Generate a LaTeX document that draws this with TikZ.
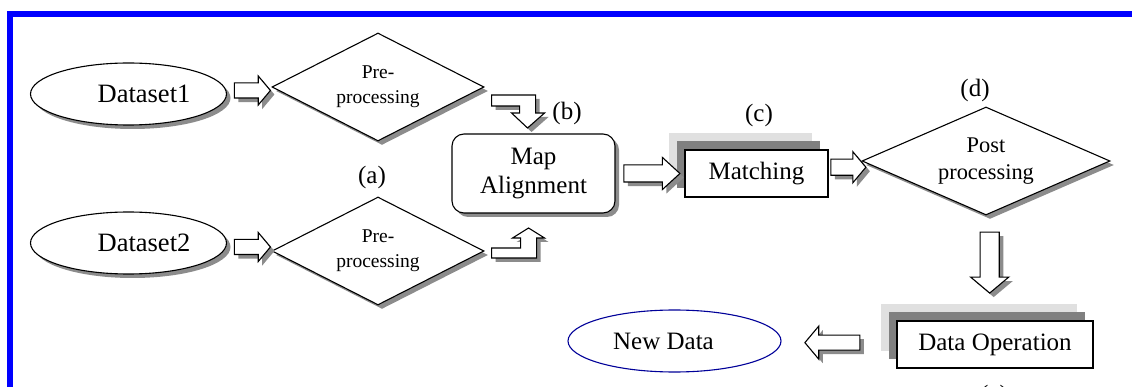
\documentclass[tikz,border=0pt]{standalone}
\usepackage{fontspec}
\setmainfont{Liberation Serif}
\usetikzlibrary{shapes.geometric,shapes.arrows,shadows,positioning,calc}

\begin{document}
\begin{tikzpicture}[x=1pt, y=-1pt,
		dshadow/.style={drop shadow={shadow xshift=4pt, shadow yshift=-4pt, fill=black!45, opacity=1}},
		data/.style={ellipse, draw, line width=1.1pt, fill=white, dshadow, minimum width=196pt, minimum height=62pt, inner sep=0pt, font=\fontsize{26.5}{30}\selectfont},
		proc/.style={diamond, draw, line width=1.1pt, fill=white, dshadow, aspect=2, inner sep=0pt, align=center, minimum width=212pt, minimum height=108pt, font=\fontsize{19.5}{25}\selectfont},
		box/.style={rectangle, draw, line width=1.1pt, fill=white, minimum width=143pt, minimum height=47pt, inner sep=0pt, font=\fontsize{25}{29}\selectfont},
		layered/.style={general shadow={shadow xshift=-16pt, shadow yshift=17pt, fill=black!12}, general shadow={shadow xshift=-8pt, shadow yshift=9pt, fill=black!50}},
		hollow/.style={draw, line width=1.1pt, fill=white, dshadow},
		rarrow/.style={single arrow, hollow, inner sep=7pt, single arrow head extend=7pt, single arrow tip angle=100, minimum height=36pt},
		tag/.style={font=\fontsize{25}{29}\selectfont}
	]
		\useasboundingbox ( 0, 0 ) rectangle ( 1132, 387 );
		\fill [white] ( 0, 0 ) rectangle ( 1132, 387 );

		% входные данные
		\node [data] (ds1) at ( 128.5, 94 ) {\hspace*{31pt}Dataset1};
		\node [data] (ds2) at ( 128.5, 243 ) {\hspace*{31pt}Dataset2};

		% предобработка
		\node [proc] (pre1) at ( 378, 87 ) {Pre-\\processing};
		\node [proc] (pre2) at ( 378, 251 ) {Pre-\\processing};
		\node [tag] (ta) at ( 372, 177 ) {(a)};
		\path (ds1.east) -- node [rarrow] (ar1) {} (pre1.west);
		\path (ds2.east) -- node [rarrow] (ar2) {} (pre2.west);

		% совмещение карт
		\node [box, rounded corners=12pt, dshadow, minimum width=163pt, minimum height=79pt, align=center] (map) at ( 533.5, 173.5 ) {Map\\Alignment};
		\node [tag] (tb) at ( 567, 113 ) {(b)};
		\draw [hollow] ($(pre1.east)+(7,8)$) -- ++(44,0) -- ++(0,18) -- ++(9,0) -- ++(-17,15) -- ++(-16,-15) -- ++(8,0) -- ++(0,-7) -- ++(-28,0) -- cycle;
		\draw [hollow] ($(pre2.east)+(7,-3)$) -- ++(29,0) -- ++(0,-10) -- ++(-8,0) -- ++(16,-10) -- ++(16,10) -- ++(-8,0) -- ++(0,20) -- ++(-45,0) -- cycle;

		% сопоставление
		\node [box, layered] (match) at ( 756.5, 173.5 ) {Matching};
		\node [tag] (tc) at ( 759, 115 ) {(c)};
		\path (map.east) -- node [rarrow, inner sep=8pt, single arrow head extend=7.5pt, single arrow tip angle=85, minimum height=56pt, pos=0.46] (ar3) {} (match.west);

		% постобработка
		\node [proc, minimum width=248pt, font=\fontsize{22.4}{27}\selectfont] (post) at ( 986, 161 ) {Post\\processing};
		\node [tag] (td) at ( 975, 90 ) {(d)};
		\path (match.east) -- node [rarrow, inner sep=7.5pt, single arrow head extend=7.5pt, minimum height=35pt] (ar4) {} (post.west);

		% операция над данными
		\node [box, layered, minimum width=196pt] (oper) at ( 995, 344.5 ) {Data Operation};
		\node [tag] (te) at ( 994, 396 ) {(e)};
		\path (post.south) -- node [rarrow, shape border rotate=270, inner sep=9pt, single arrow head extend=9.5pt, minimum height=61pt, pos=0.41] (ar5) {} (oper.north);

		% результат
		\node [ellipse, draw=blue!60!black, line width=1.1pt, minimum width=213pt, minimum height=62pt, inner sep=0pt, tag] (new) at ( 674.5, 341 ) {New Data\hspace*{22pt}};
		\path (oper.west) -- node [rarrow, shape border rotate=180, inner sep=7pt, single arrow head extend=9pt, minimum height=55pt, pos=0.53] (ar6) {} (new.east);

		% рамка
		\draw [blue, line width=6pt] ( 10, 14 ) rectangle ( 1200, 450 );
	\end{tikzpicture}
\end{document}
